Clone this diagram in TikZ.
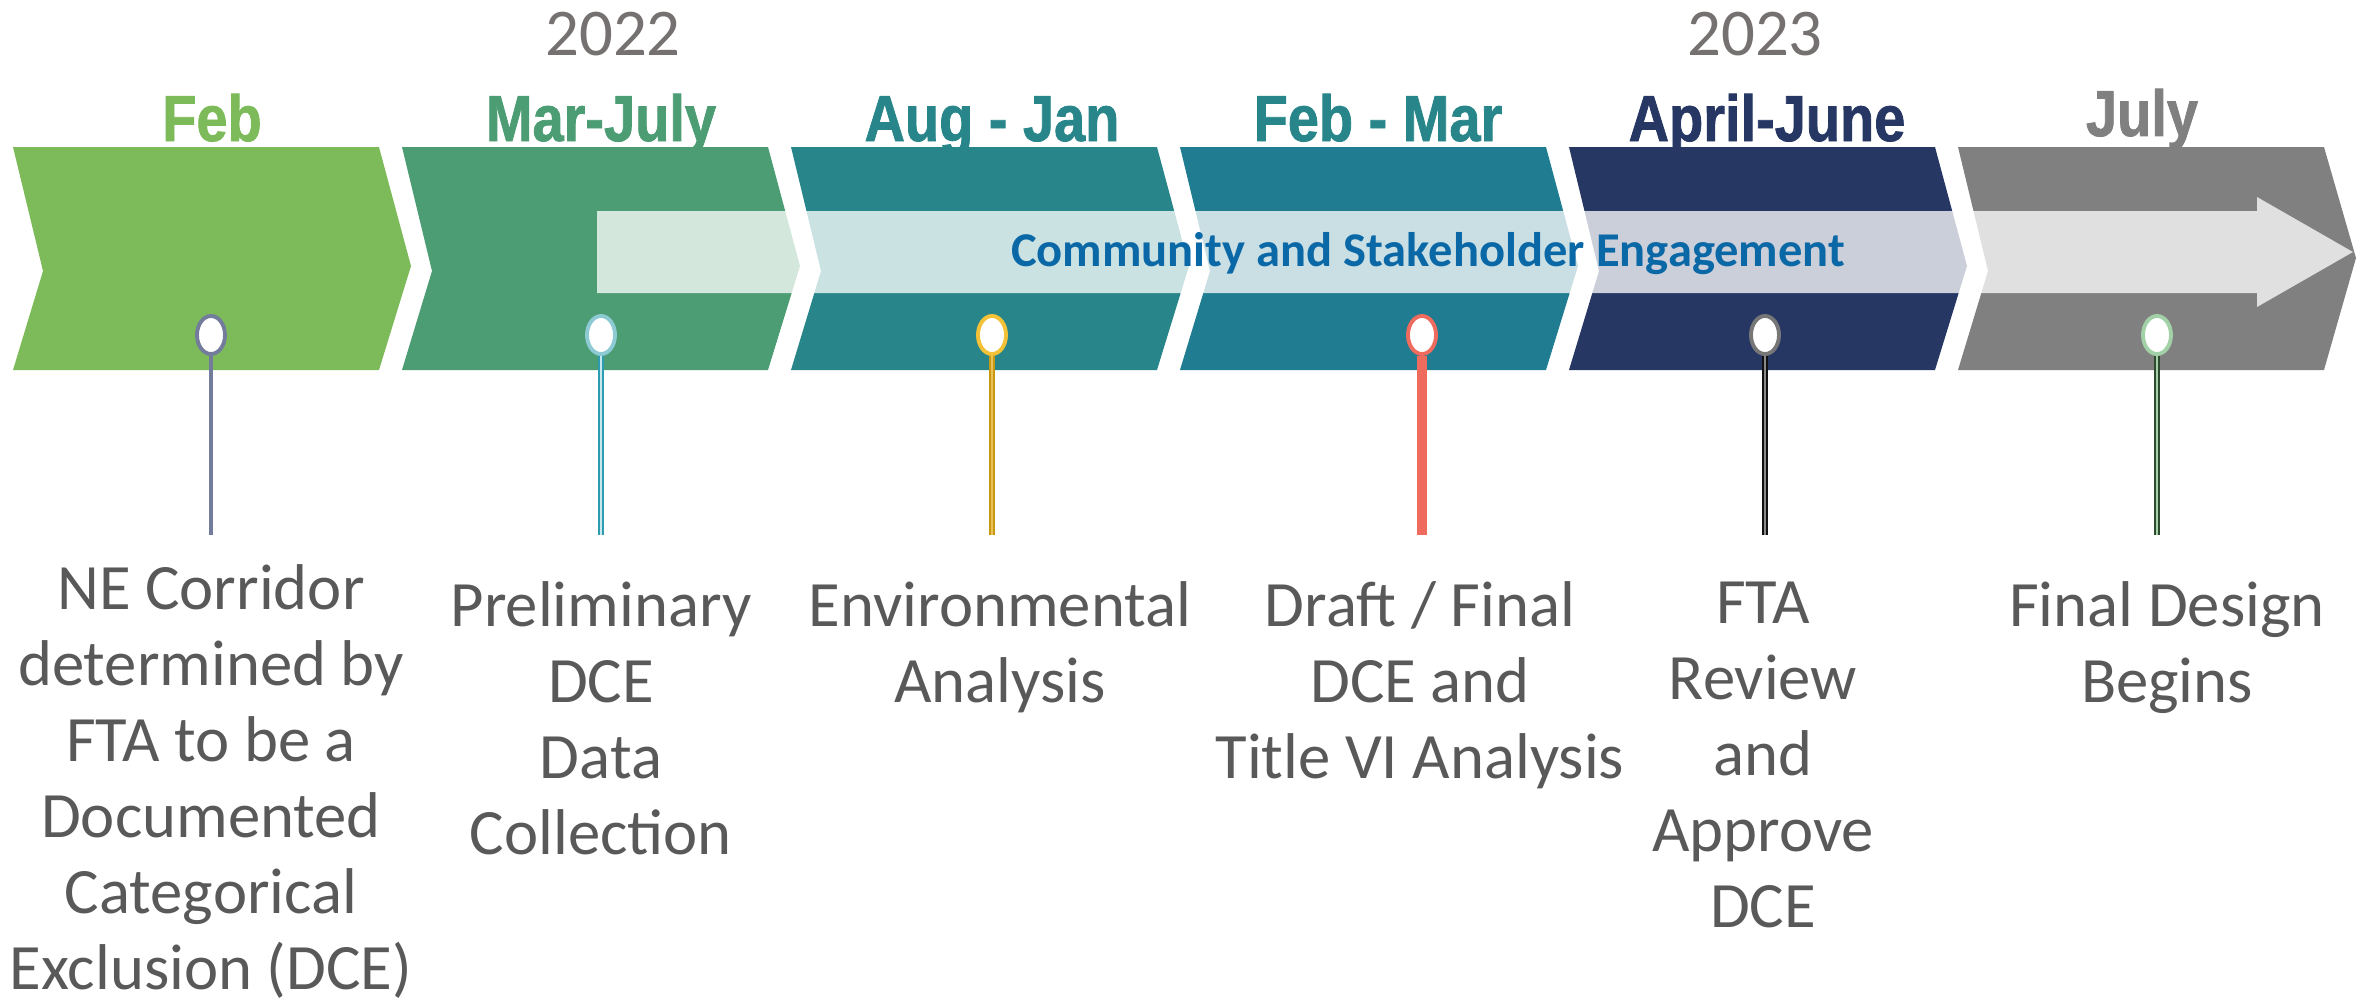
\documentclass[tikz,border=0pt]{standalone}
\usepackage{fontspec}
\setmainfont{Carlito}
\newfontfamily\monthfont[FakeStretch=0.86,FakeBold=1.2]{Liberation Sans}
\usepackage{tikz}
\usetikzlibrary{shapes.geometric}

\definecolor{febgreen}{HTML}{7DBB5A}
\definecolor{margreen}{HTML}{4C9C74}
\definecolor{augteal}{HTML}{28868A}
\definecolor{febteal}{HTML}{1F7C91}
\definecolor{aprnavy}{HTML}{263764}
\definecolor{julgrey}{HTML}{808080}
\definecolor{yeargrey}{HTML}{767171}
\definecolor{descgrey}{HTML}{595959}
\definecolor{bandblue}{HTML}{0B68A6}
\definecolor{pinslate}{HTML}{737D9B}
\definecolor{pinsky}{HTML}{8ECAD3}
\definecolor{stemsky}{HTML}{2E9CB0}
\definecolor{coresky}{HTML}{C8E8EE}
\definecolor{pingold}{HTML}{F5C237}
\definecolor{stemgold}{HTML}{C9980E}
\definecolor{coregold}{HTML}{E8C25A}
\definecolor{pincoral}{HTML}{EE6B5E}
\definecolor{pingrey}{HTML}{777777}
\definecolor{stemblack}{HTML}{111111}
\definecolor{coregrey}{HTML}{8A8A8A}
\definecolor{pinmint}{HTML}{A2D1A7}
\definecolor{stemforest}{HTML}{2F4A2F}

\begin{document}
\begin{tikzpicture}[x=0.01cm,y=-0.01cm]
\tikzset{month/.style={anchor=base,inner sep=0pt,font=\monthfont\bfseries\fontsize{18.5}{20}\selectfont}}
\tikzset{year/.style={inner sep=0pt,text=yeargrey,font=\fontsize{19}{21}\selectfont}}
\tikzset{desc/.style={anchor=north,inner sep=0pt,align=center,text=descgrey,
  font=\fontsize{18.4}{21.6}\selectfont,execute at begin node=\strut}}
\tikzset{pin/.style={ellipse,draw=#1,fill=white,line width=1.1pt,minimum width=0.28cm,minimum height=0.38cm,inner sep=0pt}}
\tikzset{stem/.style={draw=#1,line width=1.4pt}}
\tikzset{dstem/.style 2 args={draw=#1,double=#2,line width=0.5pt,double distance=0.75pt}}
\useasboundingbox (0,0) rectangle (2374,1003);

\fill[febgreen] (13,147) -- (379,147) -- (411,266) -- (379,370) -- (13,370) -- (43,271) -- cycle;
\fill[margreen] (402,147) -- (768,147) -- (800,266) -- (768,370) -- (402,370) -- (432,271) -- cycle;
\fill[augteal] (791,147) -- (1157,147) -- (1189,266) -- (1157,370) -- (791,370) -- (821,271) -- cycle;
\fill[febteal] (1180,147) -- (1546,147) -- (1578,266) -- (1546,370) -- (1180,370) -- (1210,271) -- cycle;
\fill[aprnavy] (1569,147) -- (1935,147) -- (1967,266) -- (1935,370) -- (1569,370) -- (1599,271) -- cycle;
\fill[julgrey] (1958,147) -- (2324,147) -- (2356,258) -- (2324,370) -- (1958,370) -- (1988,271) -- cycle;

\fill[white,opacity=0.76] (597,211) -- (2257,211) -- (2257,197) -- (2353,252) -- (2257,307) -- (2257,293) -- (597,293) -- cycle;
\node[anchor=base,inner sep=0pt,text=bandblue,font=\bfseries\fontsize{13.8}{16}\selectfont] (band) at (1428,266) {Community and Stakeholder Engagement};

\node[year] (y22) at (613,34) {2022};
\node[year] (y23) at (1755,34) {2023};

\node[month,text=febgreen] (m1) at (212,141) {Feb};
\node[month,text=margreen] (m2) at (601,141) {Mar-July};
\node[month,text=augteal] (m3) at (992,141) {Aug - Jan};
\node[month,text=augteal] (m4) at (1378,141) {Feb - Mar};
\node[month,text=aprnavy] (m5) at (1767,141) {April-June};
\node[month,text=julgrey] (m6) at (2142,136) {July};

\node[pin=pinslate] (p1) at (211,335) {};
\node[pin=pinsky] (p2) at (601,335) {};
\node[pin=pingold] (p3) at (992,335) {};
\node[pin=pincoral] (p4) at (1422,335) {};
\node[pin=pingrey] (p5) at (1765,335) {};
\node[pin=pinmint] (p6) at (2157,335) {};

\coordinate (e1) at (211,535);
\coordinate (e2) at (601,535);
\coordinate (e3) at (992,535);
\coordinate (e4) at (1422,535);
\coordinate (e5) at (1765,535);
\coordinate (e6) at (2157,535);

\draw[stem=pinslate] (p1) -- (e1);
\draw[dstem={stemsky}{coresky}] (p2) -- (e2);
\draw[dstem={stemgold}{coregold}] (p3) -- (e3);
\draw[draw=pincoral,line width=3.1pt] (p4) -- (e4);
\draw[dstem={stemblack}{coregrey}] (p5) -- (e5);
\draw[dstem={stemforest}{pinmint}] (p6) -- (e6);

\node[desc] (t1) at (211,564) {NE Corridor\\determined by\\FTA to be a\\Documented\\Categorical\\Exclusion (DCE)};
\node[desc] (t2) at (601,581) {Preliminary\\DCE\\Data\\Collection};
\node[desc] (t3) at (1000,581) {Environmental\\Analysis};
\node[desc] (t4) at (1420,581) {Draft / Final\\DCE and\\Title VI Analysis};
\node[desc] (t5) at (1763,581) {FTA\\Review\\and\\Approve\\DCE};
\node[desc] (t6) at (2167,581) {Final Design\\Begins};
\end{tikzpicture}
\end{document}
